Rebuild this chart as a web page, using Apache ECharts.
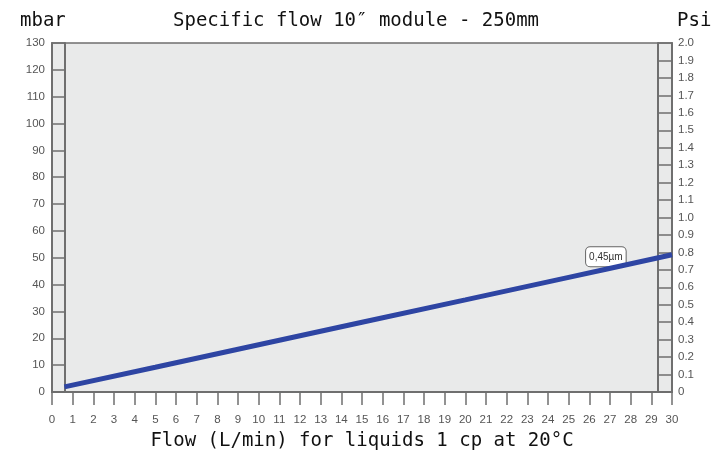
<!DOCTYPE html>
<html>
<head>
<meta charset="utf-8">
<script src="https://cdn.jsdelivr.net/npm/echarts@6/dist/echarts.min.js"></script>
<style>
html,body{margin:0;padding:0;background:#fff;}
#c{width:721px;height:453px;}
</style>
</head>
<body>
<div id="c"></div>
<script>
const flowX = [0.6, 5, 10, 15, 20, 25, 26.8, 30];
const pressureMbar = [1.9, 9.2, 17.6, 26.0, 34.3, 42.7, 45.7, 51.1];
const seriesLabel = '0,45µm';
const labelIndex = 6;
const titleText = 'Specific flow 10″ module - 250mm';
const leftUnit = 'mbar';
const rightUnit = 'Psi';
const xName = 'Flow (L/min) for liquids 1 cp at 20°C';

const axisCol = '#6f6f6f';
const tickFont = {fontFamily: 'Liberation Sans', fontSize: 11.5, color: '#555'};
const mono = 'DejaVu Sans Mono';

const data = flowX.map((x, i) => [x, pressureMbar[i]]);

const chart = echarts.init(document.getElementById('c'), null, {renderer: 'canvas'});
chart.setOption({
  animation: false,
  backgroundColor: '#fff',
  title: [
    {text: leftUnit, left: 15, top: 7, textStyle: {fontFamily: mono, fontSize: 19, fontWeight: 'normal', color: '#111'}},
    {text: titleText, left: 168, top: 7, textStyle: {fontFamily: mono, fontSize: 19, fontWeight: 'normal', color: '#111'}},
    {text: rightUnit, left: 672, top: 7, textStyle: {fontFamily: mono, fontSize: 19, fontWeight: 'normal', color: '#111'}}
  ],
  grid: {left: 52, right: 49, top: 43, bottom: 61, containLabel: false, outerBoundsMode: 'none',
         show: true, backgroundColor: '#e9eaea', borderColor: axisCol, borderWidth: 1.5},
  xAxis: [
    {
      type: 'value', min: 0, max: 30, interval: 1, position: 'bottom',
      name: xName, nameLocation: 'middle', nameGap: 40,
      nameTextStyle: {fontFamily: mono, fontSize: 19, color: '#111'},
      axisLine: {show: true, lineStyle: {color: axisCol, width: 2}},
      axisTick: {show: true, inside: false, length: 13, lineStyle: {color: axisCol, width: 1.5}},
      axisLabel: Object.assign({margin: 22}, tickFont),
      splitLine: {show: false}
    },
    {
      type: 'value', min: 0, max: 30, position: 'bottom', offset: 13,
      axisLine: {show: true, lineStyle: {color: axisCol, width: 2}},
      axisTick: {show: false}, axisLabel: {show: false}, splitLine: {show: false}
    }
  ],
  yAxis: [
    {
      type: 'value', min: 0, max: 130, interval: 10, position: 'left',
      axisLine: {show: true, lineStyle: {color: axisCol, width: 2}},
      axisTick: {show: true, inside: true, length: 13, lineStyle: {color: axisCol, width: 1.5}},
      axisLabel: Object.assign({margin: 7}, tickFont),
      splitLine: {show: false}
    },
    {
      type: 'value', min: 0, max: 130, position: 'left', offset: -13,
      axisLine: {show: true, lineStyle: {color: axisCol, width: 2}},
      axisTick: {show: false}, axisLabel: {show: false}, splitLine: {show: false}
    },
    {
      type: 'value', min: 0, max: 2, interval: 0.1, position: 'right',
      axisLine: {show: true, lineStyle: {color: axisCol, width: 2}},
      axisTick: {show: true, inside: true, length: 14, lineStyle: {color: axisCol, width: 1.5}},
      axisLabel: Object.assign({margin: 6, formatter: v => v === 0 ? '0' : v.toFixed(1)}, tickFont),
      splitLine: {show: false}
    },
    {
      type: 'value', min: 0, max: 2, position: 'right', offset: -14,
      axisLine: {show: true, lineStyle: {color: axisCol, width: 2}},
      axisTick: {show: false}, axisLabel: {show: false}, splitLine: {show: false}
    }
  ],
  series: [{
    type: 'line', xAxisIndex: 0, yAxisIndex: 0, data: data,
    showSymbol: false, z: 10,
    lineStyle: {color: '#2e45a3', width: 5},
    markPoint: {
      symbol: 'circle', symbolSize: 2,
      itemStyle: {color: 'rgba(0,0,0,0)'},
      label: {
        show: true, position: 'top', distance: 2,
        fontFamily: 'Liberation Sans', fontSize: 10, color: '#333',
        backgroundColor: '#fff', borderColor: '#666', borderWidth: 1, borderRadius: 4,
        padding: [5, 3, 4, 3]
      },
      data: [{coord: data[labelIndex], value: seriesLabel}]
    }
  }]
});
</script>
</body>
</html>
